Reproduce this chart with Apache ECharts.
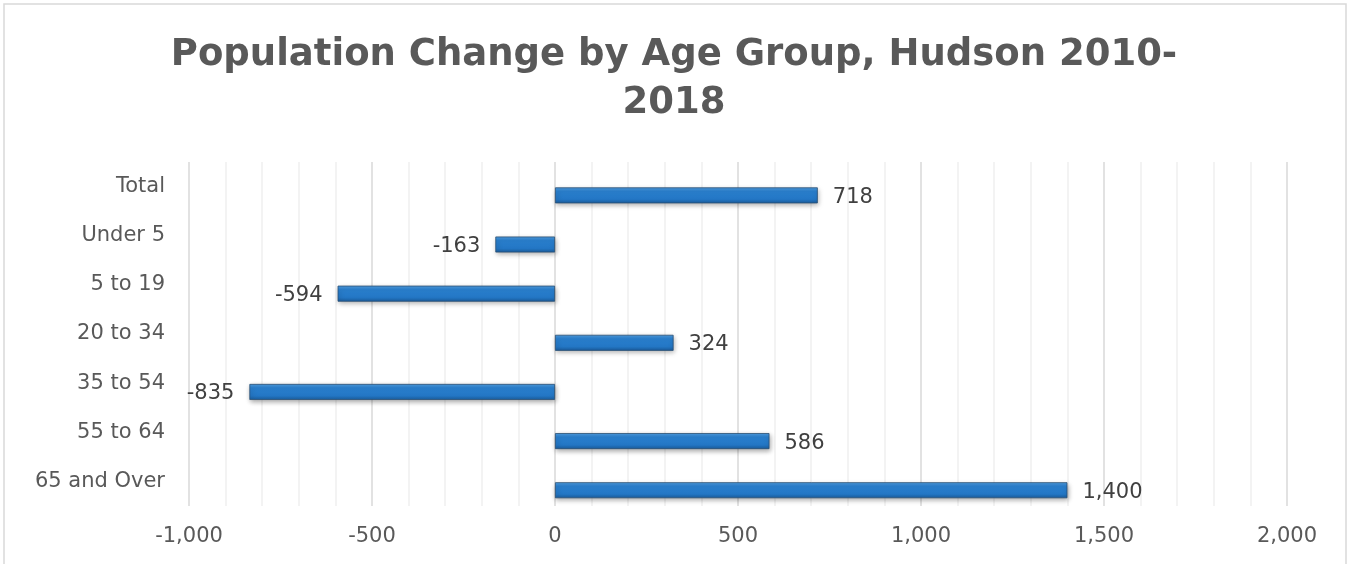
<!DOCTYPE html>
<html lang="en">
<head>
    <meta charset="UTF-8" />
    <title>Population Change by Age Group</title>
    <script src="https://cdn.jsdelivr.net/npm/echarts@6/dist/echarts.min.js"></script>
    <style>
        html, body { margin: 0; padding: 0; background: #fff; }
        #lienzo { width: 1348px; height: 564px; }
    </style>
</head>
<body>
    <div id="lienzo"></div>
    <script>
        // datos
        const grupos = ['Total', 'Under 5', '5 to 19', '20 to 34', '35 to 54', '55 to 64', '65 and Over'];
        const cambio = [718, -163, -594, 324, -835, 586, 1400];
        const vacio = grupos.map(() => null);

        const fuente = "'DejaVu Sans', 'Open Sans', sans-serif";
        const fmt = (v) => v.toLocaleString('en-US');

        let myChart = echarts.init(document.getElementById('lienzo'));

        myChart.setOption({
            animation: false,
            title: {
                text: 'Population Change by Age Group, Hudson 2010-\n2018',
                left: 'center',
                top: 26,
                textStyle: {
                    fontFamily: fuente,
                    fontWeight: 'bold',
                    fontSize: 37,
                    lineHeight: 48,
                    color: '#595959'
                }
            },
            graphic: [{
                type: 'rect',
                shape: { x: 4, y: 4, width: 1342, height: 570 },
                style: { fill: 'none', stroke: '#d9d9d9', lineWidth: 1.5 },
                silent: true
            }],
            grid: { left: 189, right: 61, top: 162, bottom: 58 },
            xAxis: {
                type: 'value',
                min: -1000,
                max: 2000,
                interval: 500,
                axisLine: { show: false },
                axisTick: { show: false },
                axisLabel: {
                    margin: 20,
                    fontFamily: fuente,
                    fontSize: 21,
                    color: '#595959',
                    formatter: fmt
                },
                splitLine: { lineStyle: { color: '#d9d9d9', width: 1.5 } },
                minorTick: { show: false, splitNumber: 5 },
                minorSplitLine: { show: true, lineStyle: { color: '#efefef', width: 1.5 } }
            },
            yAxis: {
                type: 'category',
                data: grupos,
                inverse: true,
                axisLine: { show: false },
                axisTick: { show: false },
                splitLine: { show: false },
                axisLabel: {
                    margin: 24,
                    fontFamily: fuente,
                    fontSize: 21,
                    color: '#595959'
                }
            },
            series: [
                {
                    // serie vacia para desplazar la barra como en el original
                    name: 'hueco',
                    type: 'bar',
                    data: vacio,
                    barWidth: 16,
                    barGap: '10%',
                    silent: true
                },
                {
                    name: 'Cambio',
                    type: 'bar',
                    data: cambio,
                    barWidth: 16,
                    barGap: '10%',
                    itemStyle: {
                        color: new echarts.graphic.LinearGradient(0, 0, 0, 1, [
                            { offset: 0, color: '#4f9de0' },
                            { offset: 0.25, color: '#2a80cf' },
                            { offset: 0.75, color: '#2376c4' },
                            { offset: 1, color: '#1a5c9c' }
                        ]),
                        borderColor: '#2a4f74',
                        borderWidth: 0.8,
                        shadowColor: 'rgba(0,0,0,0.35)',
                        shadowBlur: 5,
                        shadowOffsetX: 1,
                        shadowOffsetY: 2
                    },
                    label: {
                        show: true,
                        position: 'right',
                        distance: 15,
                        fontFamily: fuente,
                        fontSize: 21,
                        color: '#404040',
                        formatter: (p) => fmt(p.value)
                    },
                    labelLayout: (p) => {
                        const v = cambio[p.dataIndex];
                        if (v < 0) {
                            return {
                                x: p.rect.x - 15,
                                y: p.rect.y + p.rect.height / 2 + 2,
                                align: 'right',
                                verticalAlign: 'middle'
                            };
                        }
                        return {
                            x: p.rect.x + p.rect.width + 15,
                            y: p.rect.y + p.rect.height / 2 + 2,
                            align: 'left',
                            verticalAlign: 'middle'
                        };
                    }
                }
            ]
        });
    </script>
</body>
</html>
